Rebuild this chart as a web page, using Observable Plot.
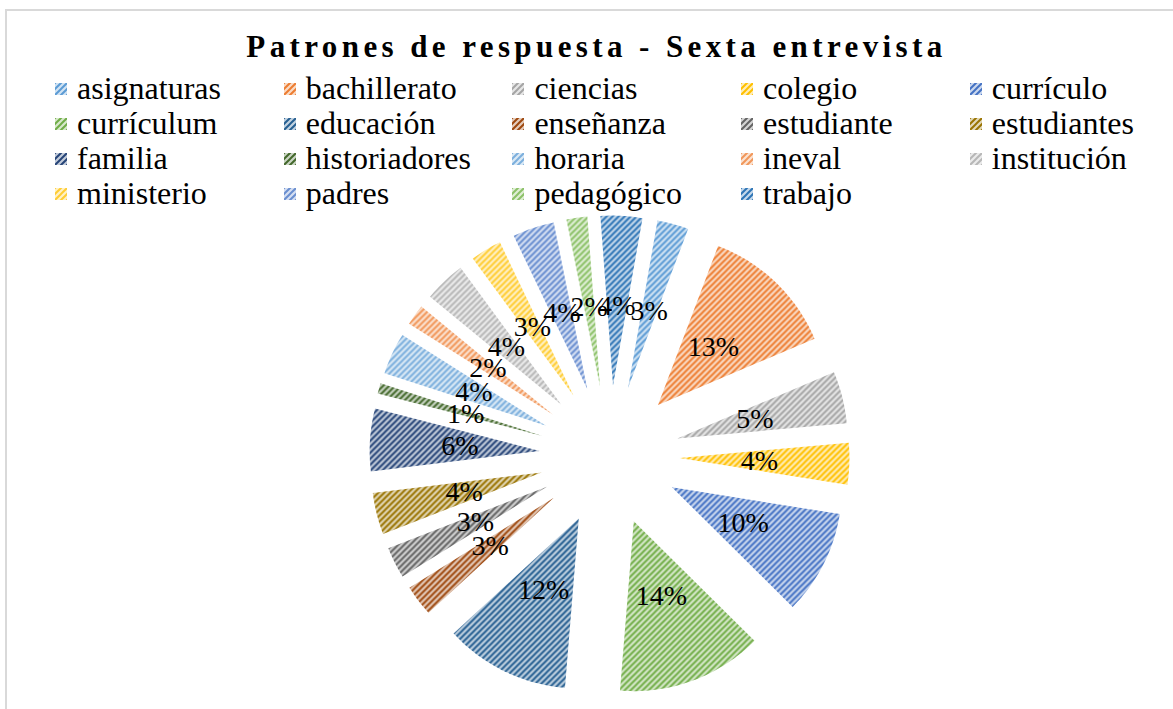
<!DOCTYPE html>
<html>
<head>
<meta charset="utf-8">
<script src="https://cdn.jsdelivr.net/npm/d3@7"></script>
<script src="https://cdn.jsdelivr.net/npm/@observablehq/plot@0.6"></script>
<style>
  html, body { margin: 0; padding: 0; background: #fff; }
  body { width: 1173px; height: 709px; position: relative; overflow: hidden; font-family: "Liberation Serif", "Times New Roman", serif; }
  #frame { position: absolute; left: 5px; top: 9px; width: 1200px; height: 720px; border-left: 2px solid #d9d9d9; border-top: 2px solid #d9d9d9; box-sizing: border-box; }
  #title { position: absolute; left: 10px; width: 1173px; top: 31px; text-align: center; font-size: 31px; line-height: 32px; font-weight: bold; letter-spacing: 4.4px; color: #000; }
  #legend { position: absolute; left: 55px; top: 71px; display: grid; grid-template-columns: repeat(5, 228.7px); }
  .item { display: flex; align-items: center; height: 35px; font-size: 32px; line-height: 35px; color: #000; white-space: nowrap; }
  .item svg { margin-right: 10px; flex: none; }
  #chart { position: absolute; left: 0; top: 210px; }
</style>
</head>
<body>
<div id="frame"></div>
<div id="title">Patrones de respuesta - Sexta entrevista</div>
<div id="legend"></div>
<div id="chart"></div>
<script>
const categories = ["asignaturas","bachillerato","ciencias","colegio","currículo","currículum","educación","enseñanza","estudiante","estudiantes","familia","historiadores","horaria","ineval","institución","ministerio","padres","pedagógico","trabajo"];
const values = [3,13,5,4,10,14,12,3,3,4,6,1,4,2,4,3,4,2,4];
const colors = ["#5B9BD5","#ED7D31","#A5A5A5","#FFC000","#4472C4","#70AD47","#255E91","#9E480E","#636363","#997300","#264478","#43682B","#7CAFDD","#F1975A","#B7B7B7","#FFCD33","#698ED0","#8CC168","#2E75B6"];

// layout
const W = 1173, H = 499;
const cx = 609, cy = 245;      // pie centre in svg pixels
const Rpx = 170;               // radius in pixels (1 data unit)
const explode = 70 / Rpx;      // slice explosion, in radii
const labelDist = explode + 0.47;
const startDeg = 10;

const a0 = startDeg * Math.PI / 180;
const arcs = d3.pie().sort(null).startAngle(a0).endAngle(a0 + 2 * Math.PI)(values);
const total = d3.sum(values);

const polyRows = [];
const labelRows = [];
arcs.forEach((arc, i) => {
  const name = categories[i];
  const m = (arc.startAngle + arc.endAngle) / 2;
  const ox = explode * Math.sin(m), oy = explode * Math.cos(m);
  polyRows.push({name, x: ox, y: oy});
  const n = Math.max(4, Math.ceil((arc.endAngle - arc.startAngle) / 0.02));
  for (let k = 0; k <= n; k++) {
    const a = arc.startAngle + (arc.endAngle - arc.startAngle) * k / n;
    polyRows.push({name, x: ox + Math.sin(a), y: oy + Math.cos(a)});
  }
  labelRows.push({name, x: labelDist * Math.sin(m), y: labelDist * Math.cos(m), text: Math.round(values[i] / total * 100) + "%"});
});

const patUrl = categories.map((c, i) => `url(#pat${i})`);

const chart = Plot.plot({
  width: W, height: H, margin: 0,
  x: {domain: [-cx / Rpx, (W - cx) / Rpx], axis: null},
  y: {domain: [-(H - cy) / Rpx, cy / Rpx], axis: null},
  color: {domain: categories, range: patUrl},
  style: {background: "transparent", overflow: "visible"},
  marks: [
    Plot.line(polyRows, {x: "x", y: "y", z: "name", fill: "name", stroke: "none", curve: "linear"}),
    Plot.text(labelRows, {x: "x", y: "y", text: "text", fontSize: 28, fontFamily: "Liberation Serif", fill: "#000"})
  ]
});

const defs = d3.select(chart).insert("defs", ":first-child");
colors.forEach((c, i) => {
  const p = defs.append("pattern").attr("id", `pat${i}`).attr("patternUnits", "userSpaceOnUse").attr("width", 6).attr("height", 6);
  p.append("rect").attr("width", 6).attr("height", 6).attr("fill", d3.interpolateRgb(c, "#fff")(0.72));
  p.append("path").attr("d", "M-1,1L1,-1M0,6L6,0M5,7L7,5").attr("stroke", c).attr("stroke-width", 2);
});
document.getElementById("chart").appendChild(chart);

const legend = d3.select("#legend");
categories.forEach((c, i) => {
  const it = legend.append("div").attr("class", "item");
  const s = it.append("svg").attr("width", 12).attr("height", 12);
  s.append("rect").attr("width", 12).attr("height", 12).attr("fill", patUrl[i]);
  it.append("span").text(c);
});
</script>
</body>
</html>
